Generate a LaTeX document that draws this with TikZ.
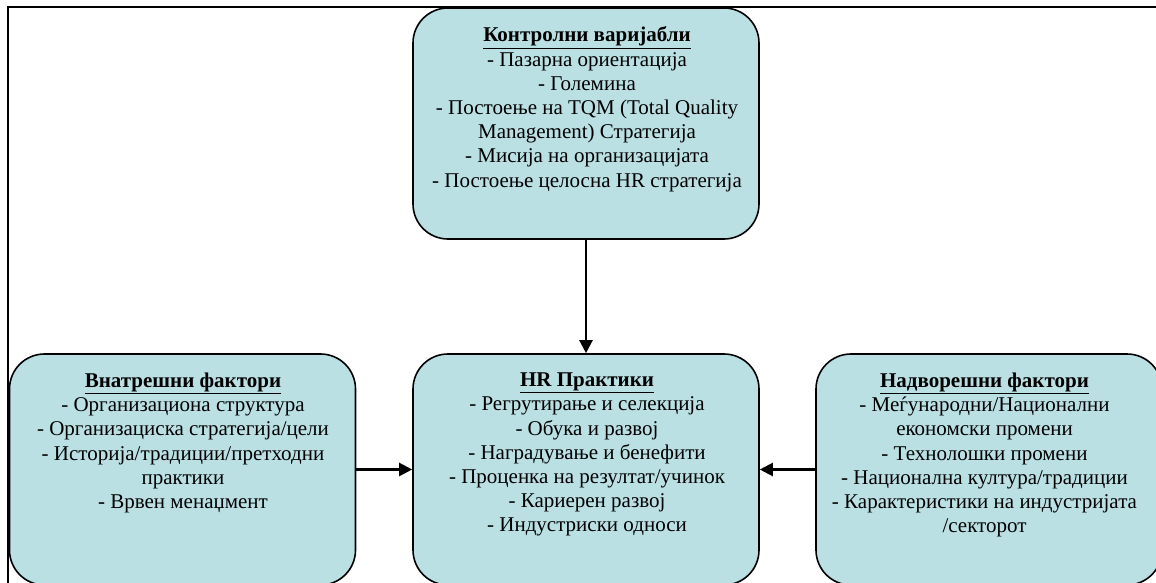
\documentclass[tikz,border=0pt]{standalone}
\usepackage{fontspec}
\setmainfont{Liberation Serif}
\usetikzlibrary{arrows.meta}
\definecolor{boxfill}{RGB}{186,224,228}
\tikzset{
  factorbox/.style={draw=black, line width=1.6pt, fill=boxfill,
    rounded corners=35pt, inner sep=0pt, minimum width=346pt, minimum height=231pt},
  factortext/.style={anchor=north, inner sep=0pt, align=center,
    font=\fontsize{21}{24.2}\selectfont},
  influence/.style={line width=2.2pt, -{Triangle[length=13pt,width=13pt]}},
  frameline/.style={draw=black, line width=2pt},
}
\newcommand{\boxhead}[1]{\underline{\textbf{#1}}}
\begin{document}
\begin{tikzpicture}[x=1pt,y=-1pt]
  \useasboundingbox (0,0) rectangle (1156,583);
  \clip (0,0) rectangle (1156,583);
  % outer frame, running off the right and bottom edges
  \draw[frameline] (8,7) rectangle (1200,620);

  % the four boxes
  \node[factorbox] (ctrl)  at (586,123.5) {};
  \node[factorbox] (inner) at (182.5,469.5) {};
  \node[factorbox] (hr)    at (586,469.5) {};
  \node[factorbox] (outer) at (989,469.5) {};

  % box texts
  \node[factortext, yshift=-19.5pt, xshift=1pt] (ctrltxt) at (ctrl.north) {%
    \boxhead{Контролни варијабли}\\
    - Пазарна ориентација\\
    - Големина\\
    - Постоење на TQM (Total Quality\\
    Management) Стратегија\\
    - Мисија на организацијата\\
    - Постоење целосна HR стратегија};
  \node[factortext, yshift=-19.5pt, xshift=0.5pt] (innertxt) at (inner.north) {%
    \boxhead{Внатрешни фактори}\\
    - Организациона структура\\
    - Организациска стратегија/цели\\
    - Историја/традиции/претходни\\
    практики\\
    - Врвен менаџмент};
  \node[factortext, yshift=-19.5pt, xshift=1pt] (hrtxt) at (hr.north) {%
    \boxhead{HR Практики}\\
    - Регрутирање и селекција\\
    - Обука и развој\\
    - Наградување и бенефити\\
    - Проценка на резултат/учинок\\
    - Кариерен развој\\
    - Индустриски односи};
  \node[factortext, yshift=-19.5pt, xshift=-4.5pt] (outertxt) at (outer.north) {%
    \boxhead{Надворешни фактори}\\
    - Меѓународни/Национални\\
    економски промени\\
    - Технолошки промени\\
    - Национална култура/традиции\\
    - Карактеристики на индустријата\\
    /секторот};

  % influences on HR practices
  \draw[influence] (ctrl.south) -- (hr.north);
  \draw[influence] (inner.east) -- (hr.west);
  \draw[influence] (outer.west) -- (hr.east);
\end{tikzpicture}
\end{document}
